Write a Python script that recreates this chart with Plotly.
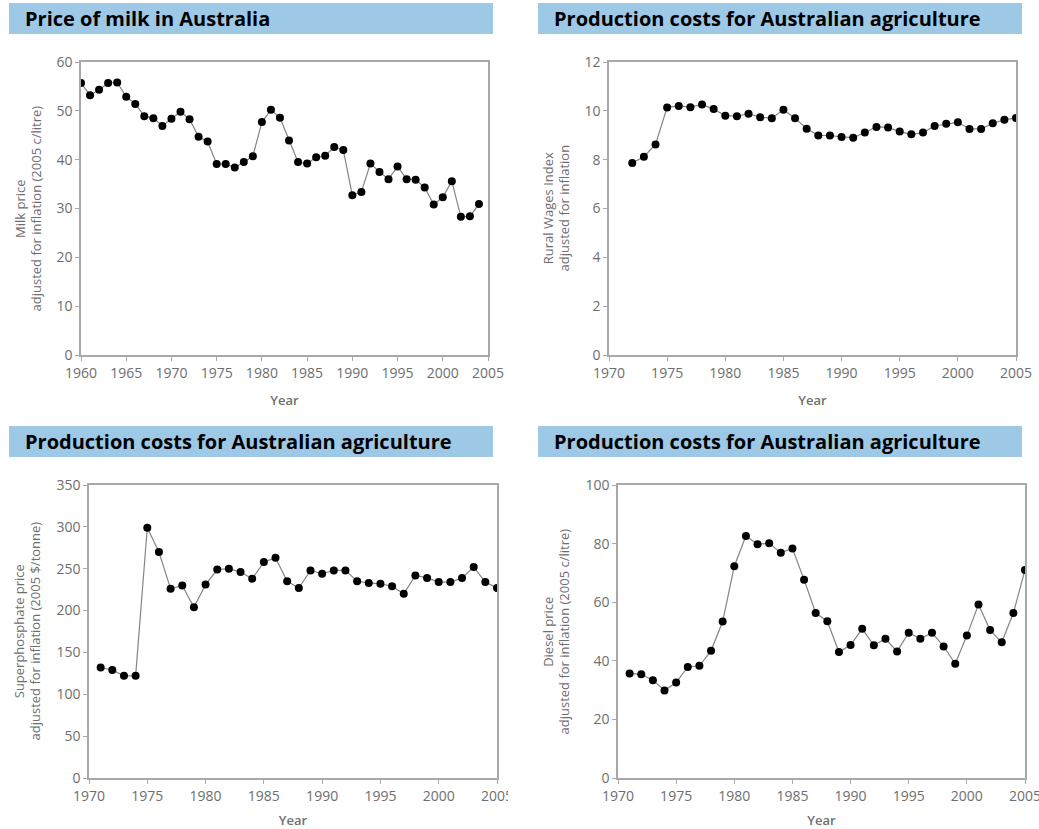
"""Four-panel chart: milk price and Australian agriculture production costs."""

import plotly.graph_objects as go

W, H = 1039, 829

# === Data ===
milk_years = list(range(1960, 2005))
milk_price = [
    55.7, 53.2, 54.3, 55.7, 55.8, 52.9, 51.4, 48.9, 48.5, 46.9,
    48.4, 49.8, 48.3, 44.7, 43.7, 39.1, 39.1, 38.4, 39.5, 40.7,
    47.7, 50.2, 48.6, 43.9, 39.5, 39.2, 40.5, 40.8, 42.6, 42.0,
    32.7, 33.4, 39.2, 37.5, 36.0, 38.6, 36.0, 35.9, 34.3, 30.8,
    32.3, 35.6, 28.3, 28.4, 30.9,
]

wage_years = list(range(1972, 2006))
rural_wages = [
    7.86, 8.12, 8.62, 10.14, 10.2, 10.15, 10.26, 10.07, 9.8, 9.78,
    9.88, 9.74, 9.7, 10.04, 9.7, 9.27, 8.99, 8.99, 8.93, 8.9,
    9.11, 9.34, 9.32, 9.15, 9.04, 9.11, 9.38, 9.47, 9.53, 9.26,
    9.26, 9.49, 9.63, 9.71,
]

super_years = list(range(1971, 2006))
super_price = [
    132, 129, 122, 122, 299, 270, 226, 230, 204, 231,
    249, 250, 246, 238, 258, 263, 235, 227, 248, 244,
    248, 248, 235, 233, 232, 229, 220, 242, 239, 234,
    234, 239, 252, 234, 227,
]

diesel_years = list(range(1971, 2006))
diesel_price = [
    35.7, 35.4, 33.4, 29.9, 32.6, 37.9, 38.3, 43.4, 53.4, 72.3,
    82.6, 79.8, 80.1, 76.9, 78.3, 67.7, 56.3, 53.5, 43.0, 45.4,
    50.9, 45.3, 47.5, 43.2, 49.6, 47.5, 49.6, 44.9, 39.0, 48.6,
    59.2, 50.5, 46.3, 56.3, 71.0,
]

TITLE_MILK = "Price of milk in Australia"
TITLE_COSTS = "Production costs for Australian agriculture"

# === Style ===
BAR_COLOR = "#9dc8e6"
FRAME_COLOR = "#a8a8a8"
TEXT_GRAY = "#6e6e6e"
LINE_GRAY = "#858585"
FONT = "Open Sans"


def px_x(p):
    return p / W


def px_y(p):
    return 1 - p / H


# panel boxes in pixels: (left, right, top, bottom)
panels = [
    dict(box=(81, 488, 62, 355), years=milk_years, values=milk_price,
         xr=[1960, 2005], yr=[0, 60], dy=10,
         ytitle="Milk price<br>adjusted for inflation (2005 c/litre)",
         bar=(9, 493, 3, 34), title=TITLE_MILK, ytx=28),
    dict(box=(609, 1016, 62, 355), years=wage_years, values=rural_wages,
         xr=[1970, 2005], yr=[0, 12], dy=2,
         ytitle="Rural Wages Index<br>adjusted for inflation",
         bar=(538, 1022, 3, 34), title=TITLE_COSTS, ytx=556),
    dict(box=(89, 497, 485, 778), years=super_years, values=super_price,
         xr=[1970, 2005], yr=[0, 350], dy=50,
         ytitle="Superphosphate price<br>adjusted for inflation (2005 $/tonne)",
         bar=(9, 493, 426, 457), title=TITLE_COSTS, ytx=27),
    dict(box=(618, 1025, 485, 778), years=diesel_years, values=diesel_price,
         xr=[1970, 2005], yr=[0, 100], dy=20,
         ytitle="Diesel price<br>adjusted for inflation (2005 c/litre)",
         bar=(538, 1022, 426, 457), title=TITLE_COSTS, ytx=556),
]

fig = go.Figure()
shapes = []
annotations = []
layout = {}

for i, p in enumerate(panels, start=1):
    sfx = "" if i == 1 else str(i)
    left, right, top, bottom = p["box"]

    fig.add_trace(go.Scatter(
        x=p["years"],
        y=p["values"],
        mode="lines+markers",
        line=dict(color=LINE_GRAY, width=1.2),
        marker=dict(color="black", size=8),
        xaxis="x" + sfx,
        yaxis="y" + sfx,
        showlegend=False,
        hovertemplate="%{x}: %{y}<extra></extra>",
    ))

    axis_common = dict(
        showgrid=False,
        zeroline=False,
        showline=True,
        mirror=True,
        linecolor=FRAME_COLOR,
        linewidth=1.5,
        ticks="outside",
        ticklen=4,
        tickwidth=1.2,
        tickcolor=FRAME_COLOR,
        tickfont=dict(family=FONT, size=14, color=TEXT_GRAY),
    )
    layout["xaxis" + sfx] = dict(
        axis_common,
        domain=[px_x(left), px_x(right)],
        anchor="y" + sfx,
        range=p["xr"],
        tickmode="linear",
        tick0=p["xr"][0],
        dtick=5,
        ticklabeloverflow="allow",
        title=dict(text="Year", standoff=15,
                   font=dict(family=FONT, size=13, color=TEXT_GRAY, weight=600)),
    )
    layout["yaxis" + sfx] = dict(
        axis_common,
        domain=[px_y(bottom), px_y(top)],
        anchor="x" + sfx,
        range=p["yr"],
        tickmode="linear",
        tick0=0,
        dtick=p["dy"],
    )

    annotations.append(dict(
        text=p["ytitle"],
        xref="paper", yref="paper",
        x=px_x(p["ytx"]), y=px_y((top + bottom) / 2),
        xanchor="center", yanchor="middle",
        textangle=-90, showarrow=False,
        font=dict(family=FONT, size=13, color=TEXT_GRAY),
    ))

    bl, br, bt, bb = p["bar"]
    shapes.append(dict(
        type="rect", xref="paper", yref="paper",
        x0=px_x(bl), x1=px_x(br), y0=px_y(bb), y1=px_y(bt),
        fillcolor=BAR_COLOR, line=dict(width=0), layer="below",
    ))
    annotations.append(dict(
        text="<b>" + p["title"] + "</b>",
        xref="paper", yref="paper",
        x=px_x(bl + 14), y=px_y((bt + bb) / 2),
        xanchor="left", yanchor="middle", showarrow=False,
        font=dict(family=FONT, size=20, color="black"),
    ))

# the original picture cuts off the last tick label of the lower-left panel
shapes.append(dict(
    type="rect", xref="paper", yref="paper",
    x0=px_x(508), x1=px_x(535), y0=px_y(812), y1=px_y(786),
    fillcolor="white", line=dict(width=0), layer="above",
))

fig.update_layout(
    width=W,
    height=H,
    margin=dict(l=0, r=0, t=0, b=0, autoexpand=False),
    paper_bgcolor="white",
    plot_bgcolor="white",
    shapes=shapes,
    annotations=annotations,
    **layout,
)

fig.write_html(
    "out.html",
    config={"displayModeBar": False},
    post_script="document.body.style.margin='0';",
)
